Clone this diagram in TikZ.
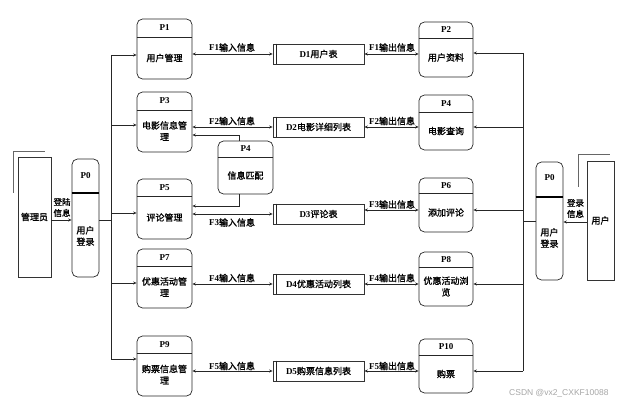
\documentclass[tikz,border=0pt]{standalone}
\usepackage{fontspec}
\setmainfont{Liberation Serif}
\newfontfamily\cjk{Noto Sans CJK SC}[FakeBold=1.2]
\newfontfamily\wmfont{Liberation Sans}
\usetikzlibrary{arrows.meta}
\newcommand\mix[2]{{\bfseries #1}{\cjk #2}}
\newcommand\mkproc[8]{%
  \pgfmathsetmacro\pcy{(#3+#4)/2}%
  \pgfmathsetmacro\ph{#4-#3}%
  \pgfmathsetmacro\ly{(#3+#6)/2}%
  \pgfmathsetmacro\ty{(#6+#4)/2}%
  \node[pbox, minimum width=#5pt, minimum height=\ph pt] (#1) at (#2,\pcy) {};
  \draw[divline] (#1.west |- 0,#6) -- (#1.east |- 0,#6);
  \node[plab] (#1-lab) at (#2,\ly) {#7};
  \node[ptxt] (#1-txt) at (#2,\ty) {#8};
}
\begin{document}
\begin{tikzpicture}[x=1pt,y=-1pt,
  pbox/.style={draw=black!85, line width=0.7pt, rounded corners=5.5pt, inner sep=0pt},
  divline/.style={draw=black!85, line width=0.7pt},
  thickdiv/.style={draw=black, line width=1.4pt},
  ent/.style={draw=black!80, line width=0.7pt, inner sep=0pt},
  store/.style={draw=black!80, line width=0.7pt, inner sep=0pt, minimum width=91pt, minimum height=20pt, font=\fontsize{9}{11}\selectfont},
  plab/.style={font=\bfseries\fontsize{9}{11}\selectfont, inner sep=0pt},
  ptxt/.style={font=\cjk\fontsize{9}{11.5}\selectfont, align=center, inner sep=0pt},
  flab/.style={font=\fontsize{9}{11}\selectfont, inner sep=0pt},
  conn/.style={draw=black!85, line width=0.7pt},
  arr/.style={conn, -{Stealth[length=3.5pt,width=3pt]}},
  darr/.style={conn, {Stealth[length=3.5pt,width=3pt]}-{Stealth[length=3.5pt,width=3pt]}}
]
\useasboundingbox (0,0) rectangle (641,403);

% ---------- left column processes ----------
\mkproc{p1}{164.5}{19}{79}{55}{37}{P1}{用户管理}
\mkproc{p3}{164.5}{92}{152}{55}{110}{P3}{电影信息管\\理}
\mkproc{p5}{164.5}{179}{239}{55}{196}{P5}{评论管理}
\mkproc{p7}{164.5}{249}{308}{55}{266}{P7}{优惠活动管\\理}
\mkproc{p9}{164.5}{336}{396}{55}{353}{P9}{购票信息管\\理}

% ---------- right column processes ----------
\mkproc{p2}{446}{22}{77}{54}{38}{P2}{用户资料}
\mkproc{p4r}{446}{95}{150}{54}{112}{P4}{电影查询}
\mkproc{p6}{446}{178}{232}{54}{193}{P6}{添加评论}
\mkproc{p8}{446}{252}{306}{54}{267}{P8}{优惠活动浏\\览}
\mkproc{p10}{446}{339}{393}{54}{355}{P10}{购票}

% ---------- middle process ----------
\mkproc{p4m}{245.5}{141}{194}{55}{157}{P4}{信息匹配}

% ---------- data stores ----------
\node[store] (d1) at (318.5,54) {\mix{D1}{用户表}};
\node[store] (d2) at (318.5,127) {\mix{D2}{电影详细列表}};
\node[store] (d3) at (318.5,214) {\mix{D3}{评论表}};
\node[store] (d4) at (318.5,284) {\mix{D4}{优惠活动列表}};
\node[store] (d5) at (318.5,371) {\mix{D5}{购票信息列表}};
\foreach \d in {d1,d2,d3,d4,d5}{
  \draw[divline] ([xshift=4pt]\d.north west) -- ([xshift=4pt]\d.south west);
}

% ---------- left login ----------
\node[ent, minimum width=33pt, minimum height=120pt] (mgr) at (34.5,217) {};
\node[ptxt] (mgr-txt) at (mgr.center) {管理员};
\coordinate (mgrc1) at (13,193);
\coordinate (mgrc2) at (13,151);
\coordinate (mgrc3) at (45,151);
\draw[conn, draw=black!60] (mgrc1) -- (mgrc2) -- (mgrc3);

\node[pbox, minimum width=27pt, minimum height=118pt] (p0l) at (85.5,218) {};
\draw[thickdiv] (p0l.west |- 0,193) -- (p0l.east |- 0,193);
\node[plab] (p0l-lab) at (85.5,176) {P0};
\node[ptxt] (p0l-txt) at (85.5,236) {用户\\登录};

\draw[arr] (mgr.east |- 0,220) -- (p0l.west |- 0,220);
\node[ptxt, font=\cjk\fontsize{8.5}{11}\selectfont] (lgl) at (62,207.5) {登陆\\信息};

% left bus
\coordinate (lbj) at (111,220);
\coordinate (lbt) at (111,55);
\coordinate (lbb) at (111,359);
\draw[conn] (p0l.east |- lbj) -- (lbj);
\draw[conn] (lbt) -- (lbb);
\draw[arr] (lbt) -- (lbt -| p1.west);
\draw[arr] (111,125) -- (p3.west |- 0,125);
\draw[arr] (111,213) -- (p5.west |- 0,213);
\draw[arr] (111,283) -- (p7.west |- 0,283);
\draw[arr] (lbb) -- (lbb -| p9.west);

% ---------- right login ----------
\node[ent, minimum width=27pt, minimum height=119pt] (usr) at (600.5,220.5) {};
\node[ptxt] (usr-txt) at (usr.center) {用户};
\coordinate (usrc1) at (578,187);
\coordinate (usrc2) at (578,154);
\coordinate (usrc3) at (610,154);
\draw[conn, draw=black!60] (usrc1) -- (usrc2) -- (usrc3);

\node[pbox, minimum width=27pt, minimum height=118pt] (p0r) at (549.5,221) {};
\draw[thickdiv] (p0r.west |- 0,197) -- (p0r.east |- 0,197);
\node[plab] (p0r-lab) at (549.5,178) {P0};
\node[ptxt] (p0r-txt) at (549.5,238) {用户\\登录};

\draw[arr] (usr.west |- 0,222) -- (p0r.east |- 0,222);
\node[ptxt, font=\cjk\fontsize{8.5}{11}\selectfont] (lgr) at (575.5,208.5) {登录\\信息};

% right bus
\coordinate (rbj) at (523,221);
\coordinate (rbt) at (523,53);
\coordinate (rbb) at (523,371);
\draw[conn] (p0r.west |- rbj) -- (rbj);
\draw[conn] (rbt) -- (rbb);
\draw[arr] (rbt) -- (rbt -| p2.east);
\draw[arr] (523,127) -- (p4r.east |- 0,127);
\draw[arr] (523,210) -- (p6.east |- 0,210);
\draw[arr] (523,284) -- (p8.east |- 0,284);
\draw[arr] (rbb) -- (rbb -| p10.east);

% ---------- flows left ----------
\draw[darr] (p1.east |- d1) -- (d1.west);
\draw[darr] (p3.east |- d2) -- (d2.west);
\draw[darr] (p5.east |- d3) -- (d3.west);
\draw[darr] (p7.east |- d4) -- (d4.west);
\draw[darr] (p9.east |- d5) -- (d5.west);
\node[flab] (f1i) at (232,47.5) {\mix{F1}{输入信息}};
\node[flab] (f2i) at (232,121) {\mix{F2}{输入信息}};
\node[flab] (f3i) at (232,222.5) {\mix{F3}{输入信息}};
\node[flab] (f4i) at (232,278) {\mix{F4}{输入信息}};
\node[flab] (f5i) at (232,366) {\mix{F5}{输入信息}};

% ---------- flows right ----------
\draw[darr] (d1.east) -- (p2.west |- d1);
\draw[darr] (d2.east) -- (p4r.west |- d2);
\draw[darr] (d3.east |- 0,210) -- (p6.west |- 0,210);
\draw[darr] (d4.east) -- (p8.west |- d4);
\draw[darr] (d5.east) -- (p10.west |- d5);
\node[flab] (f1o) at (392,47.5) {\mix{F1}{输出信息}};
\node[flab] (f2o) at (392,121) {\mix{F2}{输出信息}};
\node[flab] (f3o) at (392,204.5) {\mix{F3}{输出信息}};
\node[flab] (f4o) at (392,278) {\mix{F4}{输出信息}};
\node[flab] (f5o) at (392,366) {\mix{F5}{输出信息}};

% ---------- middle P4 links ----------
\coordinate (m1) at (239,135);
\coordinate (m2) at (239,206);
\draw[arr] (p4m.north -| m1) -- (m1) -- (m1 -| p3.east);
\draw[arr] (p4m.south -| m2) -- (m2) -- (m2 -| p5.east);

% watermark
\node[anchor=west, inner sep=0pt, text=black!35, font=\wmfont\fontsize{8.5}{10}\selectfont] (wm) at (509,393) {CSDN @vx2\_CXKF10088};
\end{tikzpicture}
\end{document}
